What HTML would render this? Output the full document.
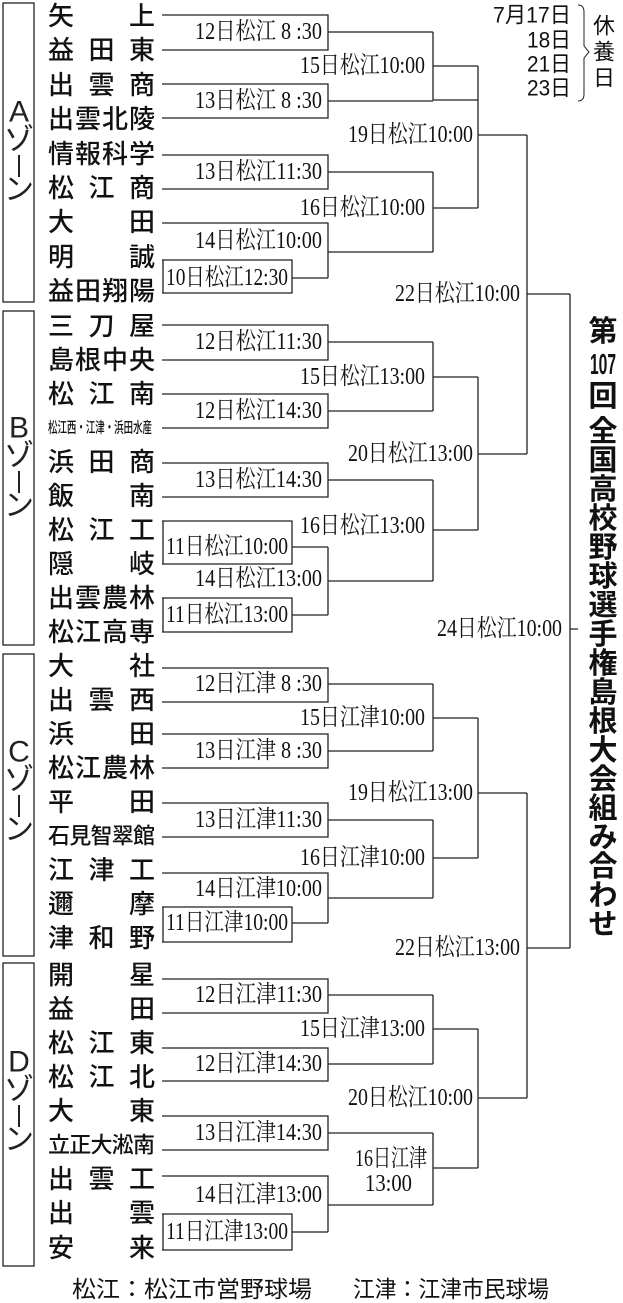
<!DOCTYPE html>
<html><head><meta charset="utf-8"><style>
html,body{margin:0;padding:0;background:#fff;}
svg{display:block;}
.t{font-family:"Liberation Sans","Noto Sans CJK JP",sans-serif;font-size:26px;fill:#111;dominant-baseline:central;font-weight:500;}
.l{font-family:"Liberation Serif","Noto Serif CJK JP",serif;font-size:24px;fill:#111;dominant-baseline:central;text-anchor:end;}
.z{font-family:"Liberation Sans","Noto Sans CJK JP",sans-serif;font-size:30px;fill:#222;text-anchor:middle;dominant-baseline:central;}
.h{font-family:"Liberation Sans","Noto Sans CJK JP",sans-serif;font-size:29px;font-weight:bold;fill:#111;text-anchor:middle;dominant-baseline:central;}
.s{font-family:"Liberation Sans","Noto Sans CJK JP",sans-serif;font-size:22px;fill:#111;dominant-baseline:central;}
</style></head><body>
<svg width="623" height="1303" viewBox="0 0 623 1303" xmlns="http://www.w3.org/2000/svg">
<g fill="none" stroke="#222" stroke-width="1.3">
<rect x="3" y="3" width="31" height="299"/>
<rect x="3" y="311" width="31" height="334"/>
<rect x="3" y="654" width="31" height="302"/>
<rect x="3" y="963" width="31" height="303"/>
<path d="M162 15H328V50H162M328 32H433"/>
<path d="M162 84H328V118H162M328 101H433"/>
<path d="M433 32V100H478M433 66H478"/>
<path d="M162 155H328V189H162M328 172H433"/>
<path d="M162 260H292V293H162M163 260V293M292 278H328"/>
<path d="M162 223H328V278M328 252H433"/>
<path d="M433 172V252M433 208H478"/>
<path d="M478 66V208M478 135H527"/>
<path d="M162 325H328V360H162M328 342H433"/>
<path d="M162 394H328V428H162M328 411H433"/>
<path d="M433 342V411M433 377H478"/>
<path d="M162 463H328V497H162M328 480H433"/>
<path d="M162 521H292V564H162M163 521V564M292 547H328"/>
<path d="M162 598H292V632H162M163 598V632M292 615H328"/>
<path d="M328 547V615M328 581H433"/>
<path d="M433 480V581M433 530H478"/>
<path d="M478 377V530M478 454H527"/>
<path d="M527 135V454M527 294H570"/>
<path d="M162 668H328V702H162M328 684H433"/>
<path d="M162 734H328V768H162M328 751H433"/>
<path d="M433 684V751M433 718H478"/>
<path d="M162 803H328V837H162M328 820H433"/>
<path d="M162 907H292V942H162M163 907V942M292 923H328"/>
<path d="M162 873H328V923M328 898H433"/>
<path d="M433 820V898M433 858H478"/>
<path d="M478 718V858M478 793H527"/>
<path d="M162 979H328V1013H162M328 995H433"/>
<path d="M162 1048H328V1081H162M328 1064H433"/>
<path d="M433 995V1064M433 1029H478"/>
<path d="M162 1116H328V1150H162M328 1133H433"/>
<path d="M162 1214H292V1250H162M163 1214V1250M292 1232H328"/>
<path d="M162 1176H328V1232M328 1205H433"/>
<path d="M433 1133V1205M433 1168H478"/>
<path d="M478 1029V1168M478 1098H527"/>
<path d="M527 793V1098M527 948H570"/>
<path d="M570 294V948M570 629H578"/>
<path d="M578 5Q584 5 584 12V46L589 52L584 58V94Q584 101 578 101" stroke-width="1"/>
</g>
<g class="z">
<text x="19" y="112">A</text><text x="19" y="140">ゾ</text><text x="19" y="190">ン</text>
<text x="19" y="428">B</text><text x="19" y="456">ゾ</text><text x="19" y="506">ン</text>
<text x="19" y="752">C</text><text x="19" y="780">ゾ</text><text x="19" y="830">ン</text>
<text x="19" y="1062">D</text><text x="19" y="1090">ゾ</text><text x="19" y="1140">ン</text>
</g>
<g stroke="#222" stroke-width="2"><path d="M19 155V177M19 471V493M19 795V817M19 1105V1127"/></g>
<g class="t">
<text x="48" y="16" textLength="107" lengthAdjust="spacing">矢上</text>
<text x="48" y="50" textLength="107" lengthAdjust="spacing">益田東</text>
<text x="48" y="85" textLength="107" lengthAdjust="spacing">出雲商</text>
<text x="48" y="119" textLength="107" lengthAdjust="spacing">出雲北陵</text>
<text x="48" y="154" textLength="107" lengthAdjust="spacing">情報科学</text>
<text x="48" y="188" textLength="107" lengthAdjust="spacing">松江商</text>
<text x="48" y="222" textLength="107" lengthAdjust="spacing">大田</text>
<text x="48" y="257" textLength="107" lengthAdjust="spacing">明誠</text>
<text x="48" y="291" textLength="107" lengthAdjust="spacing">益田翔陽</text>
<text x="48" y="326" textLength="107" lengthAdjust="spacing">三刀屋</text>
<text x="48" y="360" textLength="107" lengthAdjust="spacing">島根中央</text>
<text x="48" y="394" textLength="107" lengthAdjust="spacing">松江南</text>
<text x="48" y="428" textLength="104" lengthAdjust="spacingAndGlyphs" style="font-size:15px">松江西・江津・浜田水産</text>
<text x="48" y="462" textLength="107" lengthAdjust="spacing">浜田商</text>
<text x="48" y="496" textLength="107" lengthAdjust="spacing">飯南</text>
<text x="48" y="530" textLength="107" lengthAdjust="spacing">松江工</text>
<text x="48" y="564" textLength="107" lengthAdjust="spacing">隠岐</text>
<text x="48" y="598" textLength="107" lengthAdjust="spacing">出雲農林</text>
<text x="48" y="632" textLength="107" lengthAdjust="spacing">松江高専</text>
<text x="48" y="666" textLength="107" lengthAdjust="spacing">大社</text>
<text x="48" y="700" textLength="107" lengthAdjust="spacing">出雲西</text>
<text x="48" y="734" textLength="107" lengthAdjust="spacing">浜田</text>
<text x="48" y="768" textLength="107" lengthAdjust="spacing">松江農林</text>
<text x="48" y="802" textLength="107" lengthAdjust="spacing">平田</text>
<text x="48" y="836" textLength="107" lengthAdjust="spacing" style="font-size:22px">石見智翠館</text>
<text x="48" y="870" textLength="107" lengthAdjust="spacing">江津工</text>
<text x="48" y="904" textLength="107" lengthAdjust="spacing">邇摩</text>
<text x="48" y="938" textLength="107" lengthAdjust="spacing">津和野</text>
<text x="48" y="975" textLength="107" lengthAdjust="spacing">開星</text>
<text x="48" y="1009" textLength="107" lengthAdjust="spacing">益田</text>
<text x="48" y="1043" textLength="107" lengthAdjust="spacing">松江東</text>
<text x="48" y="1077" textLength="107" lengthAdjust="spacing">松江北</text>
<text x="48" y="1111" textLength="107" lengthAdjust="spacing">大東</text>
<text x="48" y="1145" textLength="107" lengthAdjust="spacing" style="font-size:22px">立正大淞南</text>
<text x="48" y="1179" textLength="107" lengthAdjust="spacing">出雲工</text>
<text x="48" y="1213" textLength="107" lengthAdjust="spacing">出雲</text>
<text x="48" y="1248" textLength="107" lengthAdjust="spacing">安来</text>
</g>
<g class="l">
<text x="322" y="32" textLength="127" lengthAdjust="spacingAndGlyphs">12日松江 8 :30</text>
<text x="322" y="101" textLength="127" lengthAdjust="spacingAndGlyphs">13日松江 8 :30</text>
<text x="425" y="66" textLength="125" lengthAdjust="spacingAndGlyphs">15日松江10:00</text>
<text x="322" y="172" textLength="127" lengthAdjust="spacingAndGlyphs">13日松江11:30</text>
<text x="288" y="278" textLength="122" lengthAdjust="spacingAndGlyphs">10日松江12:30</text>
<text x="322" y="241" textLength="127" lengthAdjust="spacingAndGlyphs">14日松江10:00</text>
<text x="425" y="208" textLength="125" lengthAdjust="spacingAndGlyphs">16日松江10:00</text>
<text x="473" y="135" textLength="125" lengthAdjust="spacingAndGlyphs">19日松江10:00</text>
<text x="520" y="294" textLength="125" lengthAdjust="spacingAndGlyphs">22日松江10:00</text>
<text x="322" y="342" textLength="127" lengthAdjust="spacingAndGlyphs">12日松江11:30</text>
<text x="322" y="411" textLength="127" lengthAdjust="spacingAndGlyphs">12日松江14:30</text>
<text x="425" y="377" textLength="125" lengthAdjust="spacingAndGlyphs">15日松江13:00</text>
<text x="322" y="480" textLength="127" lengthAdjust="spacingAndGlyphs">13日松江14:30</text>
<text x="288" y="547" textLength="122" lengthAdjust="spacingAndGlyphs">11日松江10:00</text>
<text x="288" y="615" textLength="122" lengthAdjust="spacingAndGlyphs">11日松江13:00</text>
<text x="322" y="579" textLength="127" lengthAdjust="spacingAndGlyphs">14日松江13:00</text>
<text x="425" y="526" textLength="125" lengthAdjust="spacingAndGlyphs">16日松江13:00</text>
<text x="473" y="454" textLength="125" lengthAdjust="spacingAndGlyphs">20日松江13:00</text>
<text x="562" y="629" textLength="125" lengthAdjust="spacingAndGlyphs">24日松江10:00</text>
<text x="322" y="684" textLength="127" lengthAdjust="spacingAndGlyphs">12日江津 8 :30</text>
<text x="322" y="751" textLength="127" lengthAdjust="spacingAndGlyphs">13日江津 8 :30</text>
<text x="425" y="718" textLength="125" lengthAdjust="spacingAndGlyphs">15日江津10:00</text>
<text x="322" y="820" textLength="127" lengthAdjust="spacingAndGlyphs">13日江津11:30</text>
<text x="288" y="923" textLength="122" lengthAdjust="spacingAndGlyphs">11日江津10:00</text>
<text x="322" y="889" textLength="127" lengthAdjust="spacingAndGlyphs">14日江津10:00</text>
<text x="425" y="858" textLength="125" lengthAdjust="spacingAndGlyphs">16日江津10:00</text>
<text x="473" y="793" textLength="125" lengthAdjust="spacingAndGlyphs">19日松江13:00</text>
<text x="520" y="948" textLength="125" lengthAdjust="spacingAndGlyphs">22日松江13:00</text>
<text x="322" y="995" textLength="127" lengthAdjust="spacingAndGlyphs">12日江津11:30</text>
<text x="322" y="1064" textLength="127" lengthAdjust="spacingAndGlyphs">12日江津14:30</text>
<text x="425" y="1029" textLength="125" lengthAdjust="spacingAndGlyphs">15日江津13:00</text>
<text x="322" y="1133" textLength="127" lengthAdjust="spacingAndGlyphs">13日江津14:30</text>
<text x="288" y="1232" textLength="122" lengthAdjust="spacingAndGlyphs">11日江津13:00</text>
<text x="322" y="1195" textLength="127" lengthAdjust="spacingAndGlyphs">14日江津13:00</text>
<text x="427" y="1159" textLength="72" lengthAdjust="spacingAndGlyphs">16日江津</text>
<text x="412" y="1184" textLength="47" lengthAdjust="spacingAndGlyphs">13:00</text>
<text x="473" y="1098" textLength="125" lengthAdjust="spacingAndGlyphs">20日松江10:00</text>
</g>
<g class="s" text-anchor="end">
<text x="571" y="15" textLength="78" lengthAdjust="spacingAndGlyphs">7月17日</text>
<text x="571" y="40" textLength="44" lengthAdjust="spacingAndGlyphs">18日</text>
<text x="571" y="64" textLength="44" lengthAdjust="spacingAndGlyphs">21日</text>
<text x="571" y="88" textLength="44" lengthAdjust="spacingAndGlyphs">23日</text>
</g>
<g class="s" text-anchor="middle">
<text x="604" y="26">休</text><text x="604" y="52">養</text><text x="604" y="78">日</text>
</g>
<g class="h">
<text x="603" y="332">第</text>
<text x="603" y="365" textLength="26" lengthAdjust="spacingAndGlyphs">107</text>
<text x="603" y="397">回</text>
<text x="603" y="432">全</text><text x="603" y="461">国</text><text x="603" y="490">高</text><text x="603" y="519">校</text><text x="603" y="548">野</text><text x="603" y="577">球</text><text x="603" y="606">選</text><text x="603" y="635">手</text><text x="603" y="664">権</text><text x="603" y="693">島</text><text x="603" y="722">根</text><text x="603" y="751">大</text><text x="603" y="780">会</text><text x="603" y="809">組</text><text x="603" y="838">み</text><text x="603" y="867">合</text><text x="603" y="896">わ</text><text x="603" y="925">せ</text>
</g>
<g class="s" style="font-size:23px">
<text x="72" y="1289" textLength="240" lengthAdjust="spacingAndGlyphs">松江：松江市営野球場</text>
<text x="353" y="1289" textLength="196" lengthAdjust="spacingAndGlyphs">江津：江津市民球場</text>
</g>
</svg>
</body></html>
